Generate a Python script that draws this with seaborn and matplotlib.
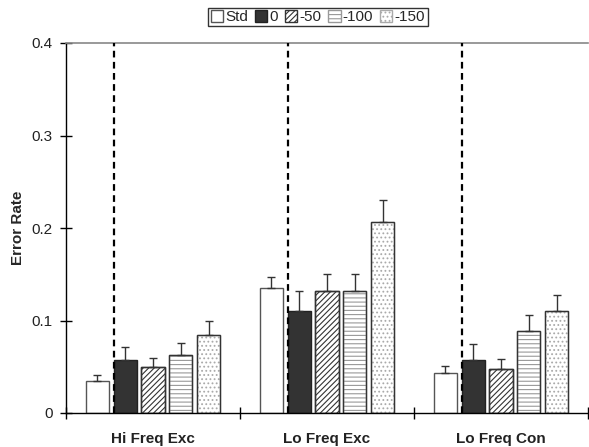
import numpy as np
import pandas as pd
import matplotlib
matplotlib.use("Agg")
import matplotlib.pyplot as plt
import seaborn as sns
from matplotlib.patches import Patch, Rectangle

categories = ["Hi Freq Exc", "Lo Freq Exc", "Lo Freq Con"]
conditions = ["Std", "0", "-50", "-100", "-150"]
# values per condition (across categories)
std_vals = [0.035, 0.135, 0.043]
v0_vals = [0.057, 0.110, 0.057]
v50_vals = [0.050, 0.132, 0.048]
v100_vals = [0.063, 0.132, 0.089]
v150_vals = [0.084, 0.206, 0.110]
# error bar sizes
std_err = [0.006, 0.012, 0.008]
v0_err = [0.014, 0.022, 0.018]
v50_err = [0.010, 0.018, 0.010]
v100_err = [0.013, 0.018, 0.017]
v150_err = [0.015, 0.024, 0.018]

yticks = [0, 0.1, 0.2, 0.3, 0.4]
ytick_labels = ["0", "0.1", "0.2", "0.3", "0.4"]

vals = [std_vals, v0_vals, v50_vals, v100_vals, v150_vals]
errs = [std_err, v0_err, v50_err, v100_err, v150_err]
rows = []
for cond, vv, ee in zip(conditions, vals, errs):
    for cat, v, e in zip(categories, vv, ee):
        rows.append({"cat": cat, "cond": cond, "val": v, "err": e})
df = pd.DataFrame(rows)

sns.set_theme(style="white")
plt.rcParams["font.family"] = ["Liberation Sans", "DejaVu Sans"]
plt.rcParams["hatch.linewidth"] = 0.8

fig = plt.figure(figsize=(5.89, 4.47), dpi=100)
ax = fig.add_axes([66/589, 34/447, 522/589, 370/447])

facecolors = ["white", "#333333", "white", "white", "white"]
hatches = [None, None, "//////", "----", "...."]
hatchcolors = [None, None, "#333333", "#999999", "#aaaaaa"]
edgecolors = ["#555555", "#222222", "#333333", "#333333", "#333333"]

sns.barplot(data=df, x="cat", y="val", hue="cond", hue_order=conditions,
            order=categories, errorbar=None, width=0.8, gap=0.17,
            palette=facecolors, edgecolor="#333333", linewidth=1.0,
            legend=False, ax=ax)

bar_containers = list(ax.containers)
for ci, cont in enumerate(bar_containers):
    for j, patch in enumerate(cont.patches):
        patch.set_facecolor(facecolors[ci])
        patch.set_edgecolor(edgecolors[ci])
        if hatches[ci]:
            patch.set_hatch(hatches[ci])
            patch.set_edgecolor(hatchcolors[ci])
            ax.add_patch(Rectangle((patch.get_x(), 0), patch.get_width(),
                                   patch.get_height(), fill=False,
                                   edgecolor=edgecolors[ci], linewidth=1.0,
                                   zorder=patch.get_zorder() + 0.1))
        x = patch.get_x() + patch.get_width() / 2
        h = patch.get_height()
        ax.errorbar([x], [h], yerr=[[0], [errs[ci][j]]], fmt="none",
                    ecolor="#333333", elinewidth=1.0, capsize=3, capthick=1.0,
                    zorder=1)

# dashed vertical lines at the left edge of the "0" bars
for patch in bar_containers[1].patches:
    ax.plot([patch.get_x(), patch.get_x()], [0, 0.4], color="black",
            linestyle=(0, (3, 2)), linewidth=1.6, zorder=5)

ax.set_xlim(-0.5, 2.5)
ax.set_ylim(0, 0.4)
ax.set_yticks(yticks)
ax.set_yticklabels(ytick_labels, fontsize=11, color="#222222")
ax.set_xticks([-0.5, 0.5, 1.5, 2.5])
ax.set_xticklabels([])
ax.set_xticks([0, 1, 2], minor=True)
ax.set_xticklabels(categories, minor=True, fontsize=11, fontweight="bold",
                   color="#222222")
ax.tick_params(axis="x", which="major", direction="inout", length=8,
               width=1, color="black", bottom=True)
ax.tick_params(axis="x", which="minor", length=0, pad=14, bottom=True)
ax.tick_params(axis="y", direction="inout", length=9, width=1, color="black",
               left=True, pad=5)
ax.set_xlabel("")
ax.set_ylabel("Error Rate", fontsize=11, fontweight="bold", labelpad=5)

for s in ["left", "bottom"]:
    ax.spines[s].set_color("black")
    ax.spines[s].set_linewidth(1.0)
ax.spines["top"].set_color("#888888")
ax.spines["top"].set_linewidth(1.2)
ax.spines["right"].set_visible(False)

handles = []
for i in range(5):
    handles.append(Patch(facecolor=facecolors[i],
                         edgecolor=hatchcolors[i] if hatches[i] else edgecolors[i],
                         hatch=hatches[i], label=conditions[i]))
leg = fig.legend(handles=handles, loc="center", bbox_to_anchor=(318/589, 1 - 17/447),
                 ncol=5, frameon=True, fontsize=11, handlelength=0.8,
                 handleheight=0.8, handletextpad=0.15, columnspacing=0.45,
                 borderpad=0.15, fancybox=False, edgecolor="black")
leg.get_frame().set_linewidth(1.0)

fig.savefig("out.png", dpi=100)
